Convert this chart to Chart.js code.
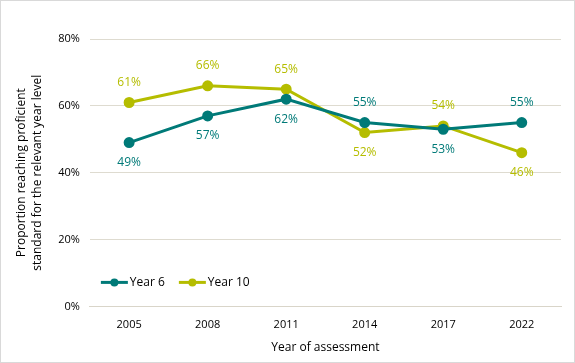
<!DOCTYPE html>
<html>
<head>
<meta charset="utf-8">
<script src="https://cdn.jsdelivr.net/npm/chart.js@4.4.1/dist/chart.umd.min.js"></script>
<style>
  html, body { margin: 0; padding: 0; background: #fff; }
  #wrap { width: 573px; height: 361px; border: 1px solid #d9d9d9; }
</style>
</head>
<body>
<div id="wrap"><canvas id="myChart" width="573" height="361"></canvas></div>
<script>
const years = ['2005', '2008', '2011', '2014', '2017', '2022'];
const year6 = [49, 57, 62, 55, 53, 55];
const year10 = [61, 66, 65, 52, 54, 46];
// label above (true) or below (false) each point
const year6Above = [false, false, false, true, false, true];
const year10Above = [true, true, true, false, true, false];

const teal = '#007A78';
const olive = '#B5BD00';

const pointLabels = {
  id: 'pointLabels',
  afterDatasetsDraw(chart) {
    const ctx = chart.ctx;
    const sides = [year6Above, year10Above];
    ctx.save();
    ctx.font = '12px "Open Sans", sans-serif';
    ctx.textAlign = 'center';
    ctx.textBaseline = 'middle';
    chart.data.datasets.forEach((ds, i) => {
      const meta = chart.getDatasetMeta(i);
      ctx.fillStyle = ds.borderColor;
      meta.data.forEach((pt, j) => {
        const dy = sides[i][j] ? -20 : 20;
        ctx.fillText(ds.data[j] + '%', pt.x, pt.y + dy);
      });
    });
    ctx.restore();
  }
};

const insideLegend = {
  id: 'insideLegend',
  afterDraw(chart) {
    const ctx = chart.ctx;
    const area = chart.chartArea;
    let x = area.left + 11;
    const y = area.bottom - 24;
    ctx.save();
    ctx.font = '12px "Open Sans", sans-serif';
    ctx.textBaseline = 'middle';
    chart.data.datasets.forEach(ds => {
      ctx.strokeStyle = ds.borderColor;
      ctx.lineWidth = 3;
      ctx.beginPath();
      ctx.moveTo(x, y);
      ctx.lineTo(x + 27, y);
      ctx.stroke();
      ctx.fillStyle = ds.borderColor;
      ctx.beginPath();
      ctx.arc(x + 13.5, y, 4, 0, Math.PI * 2);
      ctx.fill();
      ctx.fillStyle = '#000';
      ctx.fillText(ds.label, x + 29, y);
      x += 29 + ctx.measureText(ds.label).width + 14;
    });
    ctx.restore();
  }
};

const ctx = document.getElementById('myChart');
new Chart(ctx, {
  type: 'line',
  data: {
    labels: years,
    datasets: [
      {
        label: 'Year 6',
        data: year6,
        borderColor: teal,
        backgroundColor: teal,
        borderWidth: 3,
        pointRadius: 4,
        pointHoverRadius: 4,
        tension: 0
      },
      {
        label: 'Year 10',
        data: year10,
        borderColor: olive,
        backgroundColor: olive,
        borderWidth: 3,
        pointRadius: 4,
        pointHoverRadius: 4,
        tension: 0
      }
    ]
  },
  options: {
    responsive: false,
    animation: false,
    layout: { padding: { top: 38, right: 13, left: 13, bottom: 6 } },
    plugins: {
      legend: { display: false },
      tooltip: { enabled: false }
    },
    scales: {
      x: {
        offset: true,
        grid: { display: false },
        border: { color: '#d9d5c9' },
        ticks: { color: '#000', font: { family: '"Open Sans", sans-serif', size: 11 }, padding: 4 },
        title: {
          display: true,
          text: 'Year of assessment',
          color: '#000',
          font: { family: '"Open Sans", sans-serif', size: 12 },
          padding: { top: 5, bottom: 1 }
        }
      },
      y: {
        min: 0,
        max: 80,
        ticks: {
          stepSize: 20,
          color: '#000',
          font: { family: '"Open Sans", sans-serif', size: 11 },
          padding: 10,
          callback: v => v + '%'
        },
        grid: { color: '#dedbd0', drawTicks: false },
        border: { display: false },
        title: {
          display: true,
          text: ['Proportion reaching proficient', 'standard for the relevant year level'],
          color: '#000',
          font: { family: '"Open Sans", sans-serif', size: 12, lineHeight: 1.3 },
          padding: { top: 0, bottom: 3 }
        }
      }
    }
  },
  plugins: [pointLabels, insideLegend]
});
</script>
</body>
</html>
